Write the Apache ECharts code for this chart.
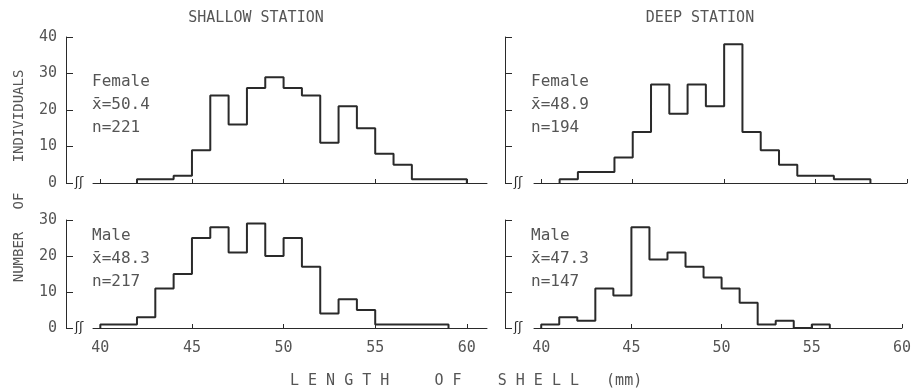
<!DOCTYPE html>
<html>
<head>
<meta charset="utf-8">
<script src="https://cdn.jsdelivr.net/npm/echarts@6/dist/echarts.min.js"></script>
<style>
  html, body { margin: 0; padding: 0; background: #fff; }
  #chart { width: 914px; height: 391px; }
</style>
</head>
<body>
<div id="chart"></div>
<script>
   // shell length classes (mm), lower bound of each 1 mm class
   var lengthBins = [40, 41, 42, 43, 44, 45, 46, 47, 48, 49, 50, 51, 52, 53, 54, 55, 56, 57, 58, 59];
   var xTicks = [40, 45, 50, 55, 60];

   // number of individuals per class
   var shallowFemale = [0, 0, 1, 1, 2, 9, 24, 16, 26, 29, 26, 24, 11, 21, 15, 8, 5, 1, 1, 1];
   var deepFemale    = [0, 1, 3, 3, 7, 14, 27, 19, 27, 21, 38, 14, 9, 5, 2, 2, 1, 1, 0, 0];
   var shallowMale   = [1, 1, 3, 11, 15, 25, 28, 21, 29, 20, 25, 17, 4, 8, 5, 1, 1, 1, 1, 0];
   var deepMale      = [1, 3, 2, 11, 9, 28, 19, 21, 17, 14, 11, 7, 1, 2, 0, 1, 0, 0, 0, 0];

   var panelSex = ['Female', 'Female', 'Male', 'Male'];
   var panelMean = ['50.4', '48.9', '48.3', '47.3'];
   var panelN = ['221', '194', '217', '147'];

   var mono = '"DejaVu Sans Mono", monospace';
   var inkText = '#555';
   var inkLine = '#2a2a2a';

   // histogram outline as points for a step line
   function steps(counts) {
       var i0 = 0, i1 = counts.length - 1;
       while (counts[i0] === 0) i0++;
       while (counts[i1] === 0) i1--;
       var pts = [[lengthBins[i0], 0]];
       for (var i = i0; i <= i1; i++) pts.push([lengthBins[i], counts[i]]);
       pts.push([lengthBins[i1] + 1, 0]);
       return pts;
   }

   var panels = [
       {left: 93, width: 394, top: 37, height: 146, xmax: 61.1, ymax: 40, data: shallowFemale, labelsX: false, labelsY: true, yOff: 27},
       {left: 534, width: 373, top: 37, height: 146, xmax: 60, ymax: 40, data: deepFemale, labelsX: false, labelsY: false, yOff: 29},
       {left: 93, width: 394, top: 220, height: 108, xmax: 61.1, ymax: 30, data: shallowMale, labelsX: true, labelsY: true, yOff: 27},
       {left: 534, width: 373, top: 220, height: 108, xmax: 60, ymax: 30, data: deepMale, labelsX: true, labelsY: false, yOff: 29}
   ];

   var grids = [], xAxes = [], yAxes = [], series = [], graphics = [];

   panels.forEach(function (p, k) {
       grids.push({left: p.left, top: p.top, width: p.width, height: p.height});
       xAxes.push({
           type: 'value', gridIndex: k, min: 39.6, max: p.xmax,
           axisLine: {show: true, onZero: false, lineStyle: {color: inkLine, width: 1}},
           axisTick: {show: true, inside: true, length: 4, customValues: xTicks, lineStyle: {color: inkLine}},
           axisLabel: {show: p.labelsX, customValues: xTicks, margin: 13, fontFamily: mono, fontSize: 15, color: inkText},
           splitLine: {show: false}
       });
       yAxes.push({
           type: 'value', gridIndex: k, min: 0, max: p.ymax, interval: 10, offset: p.yOff,
           axisLine: {show: true, lineStyle: {color: inkLine, width: 1}},
           axisTick: {show: true, inside: true, length: 7, lineStyle: {color: inkLine}},
           axisLabel: {show: p.labelsY, margin: 9, fontFamily: mono, fontSize: 15, color: inkText},
           splitLine: {show: false}
       });
       series.push({
           type: 'line', xAxisIndex: k, yAxisIndex: k, step: 'end',
           data: steps(p.data), symbol: 'none',
           lineStyle: {color: inkLine, width: 2}
       });
       // annotation block
       var ax = p.left - p.yOff + 26;
       var ay = p.top + (p.ymax === 40 ? 33 : 4);
       graphics.push({
           type: 'text', left: ax, top: ay,
           style: {
               text: panelSex[k] + '\nx\u0304=' + panelMean[k] + '\nn=' + panelN[k],
               font: '16px ' + mono, fill: inkText, lineHeight: 23
           }
       });
       // axis break mark
       graphics.push({
           type: 'text', x: p.left - p.yOff + 13, y: p.top + p.height,
           style: {text: '\u0283\u0283', font: '13px "DejaVu Sans"', fill: inkLine, align: 'center', verticalAlign: 'middle'}
       });
   });

   graphics.push(
       {type: 'text', x: 256, y: 18, style: {text: 'SHALLOW STATION', font: '15px ' + mono, fill: inkText, align: 'center', verticalAlign: 'middle'}},
       {type: 'text', x: 700, y: 18, style: {text: 'DEEP STATION', font: '15px ' + mono, fill: inkText, align: 'center', verticalAlign: 'middle'}},
       {type: 'text', x: 19, y: 116, rotation: Math.PI / 2, style: {text: 'INDIVIDUALS', font: '14px ' + mono, fill: inkText, align: 'center', verticalAlign: 'middle'}},
       {type: 'text', x: 19, y: 201, rotation: Math.PI / 2, style: {text: 'OF', font: '14px ' + mono, fill: inkText, align: 'center', verticalAlign: 'middle'}},
       {type: 'text', x: 19, y: 257, rotation: Math.PI / 2, style: {text: 'NUMBER', font: '14px ' + mono, fill: inkText, align: 'center', verticalAlign: 'middle'}},
       {type: 'text', x: 290, y: 381, style: {text: 'L E N G T H     O F    S H E L L   (mm)', font: '15px ' + mono, fill: inkText, align: 'left', verticalAlign: 'middle'}}
   );

   var chart = echarts.init(document.getElementById('chart'));
   chart.setOption({
       animation: false,
       backgroundColor: '#fff',
       grid: grids,
       xAxis: xAxes,
       yAxis: yAxes,
       series: series,
       graphic: graphics
   });
   window.onresize = function () {
       chart.resize();
   };
</script>
</body>
</html>
